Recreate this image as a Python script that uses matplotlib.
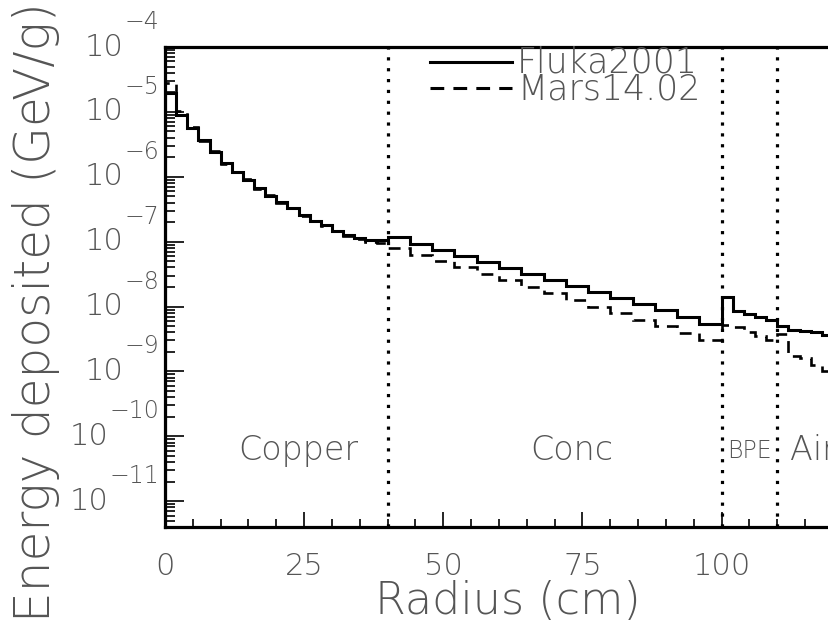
import matplotlib.pyplot as plt
from matplotlib.ticker import LogLocator, MultipleLocator, NullFormatter
import numpy as np

# bin edges (cm): copper 2 cm bins, concrete 4 cm, BPE and air 2 cm
edges = [0, 2, 4, 6, 8, 10, 12, 14, 16, 18, 20, 22, 24, 26, 28, 30, 32, 34, 36, 38, 40,
         44, 48, 52, 56, 60, 64, 68, 72, 76, 80, 84, 88, 92, 96, 100,
         102, 104, 106, 108, 110,
         112, 114, 116, 118, 120]

fluka = [1.98e-5, 8.95e-6, 5.58e-6, 3.69e-6, 2.44e-6, 1.65e-6, 1.20e-6, 8.9e-7, 6.65e-7, 5.07e-7,
         4.13e-7, 3.27e-7, 2.58e-7, 2.11e-7, 1.79e-7, 1.48e-7, 1.27e-7, 1.13e-7, 1.06e-7, 1.06e-7,
         1.17e-7, 9.3e-8, 7.5e-8, 6.0e-8, 4.85e-8, 3.9e-8, 3.15e-8, 2.55e-8, 2.05e-8, 1.65e-8,
         1.33e-8, 1.08e-8, 8.7e-9, 6.9e-9, 5.4e-9,
         1.42e-8, 8.6e-9, 7.7e-9, 7.0e-9, 6.3e-9,
         5.1e-9, 4.4e-9, 4.2e-9, 4.0e-9, 3.6e-9]

mars = [2.8e-5, 1.05e-5, 5.9e-6, 3.5e-6, 2.5e-6, 1.6e-6, 1.18e-6, 9.2e-7, 6.4e-7, 5.2e-7,
        4.0e-7, 3.3e-7, 2.5e-7, 2.1e-7, 1.72e-7, 1.45e-7, 1.22e-7, 1.08e-7, 1.0e-7, 9.4e-8,
        7.9e-8, 6.3e-8, 5.0e-8, 4.0e-8, 3.2e-8, 2.55e-8, 2.02e-8, 1.6e-8, 1.27e-8, 1.0e-8,
        8.0e-9, 6.3e-9, 5.0e-9, 3.9e-9, 3.05e-9,
        5.2e-9, 4.8e-9, 4.0e-9, 3.5e-9, 3.0e-9,
        3.8e-9, 1.7e-9, 1.6e-9, 1.26e-9, 1.0e-9]

boundaries = [40, 100, 110]
regions = ["Copper", "Conc", "BPE", "Air"]
region_x = [24, 73, 105, 112.2]
series_names = ["Fluka2001", "Mars14.02"]

decades = [1e-4, 1e-5, 1e-6, 1e-7, 1e-8, 1e-9, 1e-10, 1e-11]
exponents = ["\u22124", "\u22125", "\u22126", "\u22127", "\u22128", "\u22129", "\u221210", "\u221211"]

grey = "#555555"
plt.rcParams['font.family'] = ['DejaVu Sans']

fig = plt.figure(figsize=(8.29, 6.24), dpi=100)
ax = fig.add_axes([165/829, 97/624, 668/829, 480/624])

ax.stairs(fluka, edges, color="black", lw=2.2)
ax.stairs(mars, edges, color="black", lw=1.9, linestyle=(0, (4.5, 3)))

for b in boundaries:
    ax.axvline(b, color="black", lw=2.3, linestyle=(0, (1, 2.4)))

ax.set_yscale("log")
ax.set_xlim(0, 120)
ax.set_ylim(4e-12, 1e-4)

# frame: left, top, bottom (right side is cut off in the picture)
ax.spines["right"].set_visible(False)
for s in ["left", "top", "bottom"]:
    ax.spines[s].set_linewidth(2.3)

ax.xaxis.set_major_locator(MultipleLocator(25))
ax.xaxis.set_minor_locator(MultipleLocator(5))
ax.yaxis.set_major_locator(LogLocator(base=10, numticks=20))
ax.yaxis.set_minor_locator(LogLocator(base=10, subs=np.arange(2, 10), numticks=20))
ax.yaxis.set_major_formatter(NullFormatter())
ax.yaxis.set_minor_formatter(NullFormatter())
ax.tick_params(which="both", direction="in", top=False, right=False, width=1.2)
ax.tick_params(axis="y", which="major", length=14)
ax.tick_params(axis="y", which="minor", length=7)
ax.tick_params(axis="x", which="major", length=11, pad=18)
ax.tick_params(axis="x", which="minor", length=6)
for lab in ax.get_xticklabels():
    lab.set_fontsize(22)
    lab.set_color(grey)
    lab.set_fontweight("light")

# y tick labels written as 10 with a raised exponent, PAW style
for d, e in zip(decades, exponents):
    ex = ax.annotate(e, xy=(0, d), xycoords=("axes fraction", "data"),
                     xytext=(-6, 25), textcoords="offset pixels",
                     ha="right", va="center", fontsize=17, color=grey,
                     fontweight="light", annotation_clip=False)
    ax.annotate("10", xy=(0, 0.5), xycoords=ex, xytext=(-1, -25),
                textcoords="offset pixels", ha="right", va="center",
                fontsize=22, color=grey, fontweight="light", annotation_clip=False)

# region labels
for name, xr in zip(regions, region_x):
    if name == "BPE":
        ax.text(xr, 6e-11, name, ha="center", va="center", fontsize=17, color=grey,
                fontweight="light")
    elif name == "Air":
        ax.text(xr, 6e-11, name, ha="left", va="center", fontsize=24, color=grey,
                fontweight="light", clip_on=False)
    else:
        ax.text(xr, 6e-11, name, ha="center", va="center", fontsize=24, color=grey,
                fontweight="light")

# legend drawn by hand
ax.plot([0.397, 0.519], [0.969, 0.969], transform=ax.transAxes, color="black", lw=2.2)
ax.plot([0.397, 0.519], [0.914, 0.914], transform=ax.transAxes, color="black", lw=2.2,
        linestyle=(0, (4.5, 3)))
ax.text(0.527, 0.967, series_names[0], transform=ax.transAxes, ha="left", va="center",
        fontsize=25, color=grey, fontweight="light")
ax.text(0.527, 0.912, series_names[1], transform=ax.transAxes, ha="left", va="center",
        fontsize=25, color=grey, fontweight="light")

fig.text(508/829, 1 - 602/624, "Radius (cm)", ha="center", va="center", fontsize=32,
         color=grey, fontweight="light")
fig.text(0.043, 0.50, "Energy deposited (GeV/g)", ha="center", va="center",
         rotation=90, fontsize=35, color=grey, fontweight="light")

fig.savefig("out.png", dpi=100)
